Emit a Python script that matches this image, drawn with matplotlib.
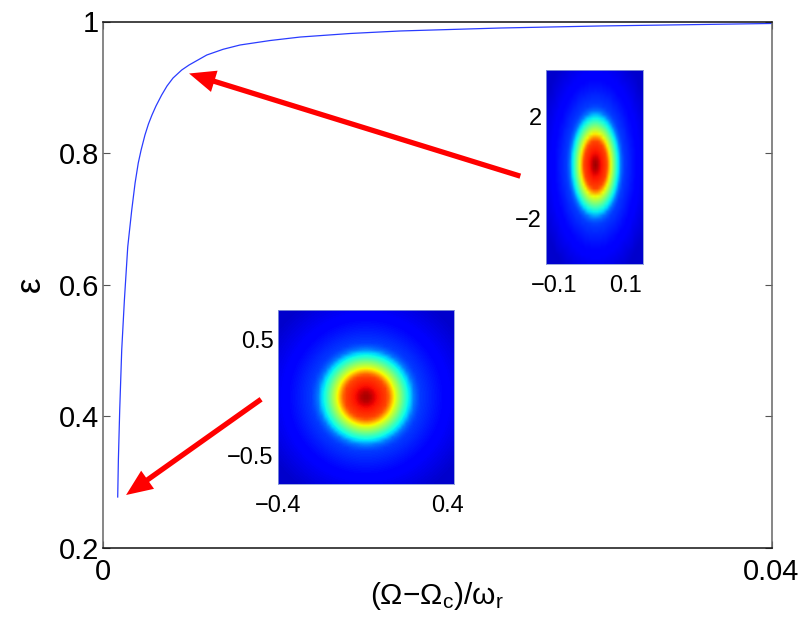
import numpy as np
import matplotlib
matplotlib.use("Agg")
import matplotlib.pyplot as plt
from matplotlib.patches import FancyArrowPatch
from matplotlib.transforms import ScaledTranslation

plt.rcParams['font.family'] = ['Liberation Sans', 'DejaVu Sans']
plt.rcParams['mathtext.fontset'] = 'custom'
plt.rcParams['mathtext.rm'] = 'Liberation Sans'
plt.rcParams['mathtext.it'] = 'Liberation Sans'
plt.rcParams['mathtext.default'] = 'regular'

# Main curve
omega = [.00088, .00092, .00100, .00112, .00128, .00148, .00157, .00172, .00192, .00211,
         .00228, .00251, .00272, .00293, .00317, .00351, .00383, .00419, .00471, .00515,
         .00621, .00719, .0082, .0100, .0118, .0148, .01778, .02377, .02976, .04]
epsilon = [.2775, .3337, .4097, .5009, .5768, .6574, .6786, .7136, .7546, .785,
           .8047, .8275, .8443, .8579, .8716, .8883, .902, .9141, .9263, .9339,
           .9491, .9578, .9643, .9711, .9764, .9818, .9856, .9901, .9932, .997]
y_ticks = [0.2, 0.4, 0.6, 0.8, 1.0]
y_ticklabels = ['0.2', '0.4', '0.6', '0.8', '1']
x_ticks = [0, 0.04]
x_ticklabels = ['0', '0.04']

# Arrows: (tail, tip) in data units
arrow_upper = ((.02497, .765), (.00515, .921))
arrow_lower = ((.00946, .426), (.00138, .2805))

# Radial density profile of the insets (normalised radius -> colour level)
profile_rho = [0, .1, .2, .35, .47, .55, .62, .75, .88, .97, 1.04, 1.17, 1.5, 1.87, 2.4]
profile_lvl = [1.0, .98, .93, .89, .86, .76, .66, .53, .40, .34, .25, .19, .15, .11, .07]

# Insets: extent, ring semi-axes, centre
round_extent = (-0.4, 0.4, -0.75, 0.75)
round_axes = (0.2136, 0.405)
round_centre = (0.0, 0.0)
tall_extent = (-0.157, 0.157, -3.78, 3.84)
tall_axes = (0.0806, 2.04)
tall_centre = (0.003, 0.12)

W, H = 806, 621
fig = plt.figure(figsize=(W / 100, H / 100), dpi=100)


def box(l, t, r, b):
    return [l / W, 1 - b / H, (r - l) / W, (b - t) / H]


def shift(label, dx_px):
    label.set_transform(label.get_transform() + ScaledTranslation(dx_px / 100, 0, fig.dpi_scale_trans))


ax = fig.add_axes(box(103, 21.5, 771.5, 548))
ax.plot(omega, epsilon, color='#2a3cff', lw=0.9)
ax.set_xlim(0, 0.04)
ax.set_ylim(0.2, 1.0)
ax.set_xticks(x_ticks, x_ticklabels)
ax.set_yticks(y_ticks, y_ticklabels)
ax.tick_params(direction='in', length=5, width=0.8, top=True, right=True,
               labelsize=21, color='#555555')
ax.tick_params(axis='x', pad=7)
ax.tick_params(axis='y', pad=3)
for name, s in ax.spines.items():
    s.set_linewidth(1.1)
    s.set_color('#666666' if name in ('left', 'right') else '#111111')
ax.set_xlabel('(Ω−Ω$_{c}$)/ω$_{r}$', fontsize=21.5, labelpad=-4)
ax.set_ylabel('ε', fontsize=25, labelpad=8)

for tail, tip in (arrow_upper, arrow_lower):
    ax.add_patch(FancyArrowPatch(tail, tip, shrinkA=0, shrinkB=0, mutation_scale=1,
                                 arrowstyle='simple,head_length=19,head_width=16,tail_width=3.8',
                                 color='#ff0000', lw=0, zorder=5))


def inset(pos, extent, semi, centre, xticks, xlabels, yticks, ylabels):
    a = fig.add_axes(pos)
    xs = np.linspace(extent[0], extent[1], 50)
    ys = np.linspace(extent[2], extent[3], 50)
    X, Y = np.meshgrid(xs, ys)
    rho = np.hypot((X - centre[0]) / semi[0], (Y - centre[1]) / semi[1])
    a.imshow(np.interp(rho, profile_rho, profile_lvl), extent=extent, origin='lower',
             cmap='jet', vmin=0, vmax=1.03, aspect='auto', interpolation='bilinear')
    a.set_xticks(xticks, xlabels)
    a.set_yticks(yticks, ylabels)
    a.tick_params(length=0, labelsize=17, pad=3)
    a.tick_params(axis='x', pad=8)
    for s in a.spines.values():
        s.set_linewidth(0.6)
        s.set_color('#8a9ad8')
    return a


rnd = inset(box(278, 310, 454, 484), round_extent, round_axes, round_centre,
            [-0.4, 0.4], ['−0.4', '0.4'], [-0.5, 0.5], ['−0.5', '0.5'])
shift(rnd.get_xticklabels()[1], -6)
tall = inset(box(546, 70, 643, 264), tall_extent, tall_axes, tall_centre,
             [-0.1, 0.1], ['−0.1', '0.1'], [-2, 2], ['−2', '2'])
shift(tall.get_xticklabels()[0], -10)

fig.savefig('out.png', dpi=100)
